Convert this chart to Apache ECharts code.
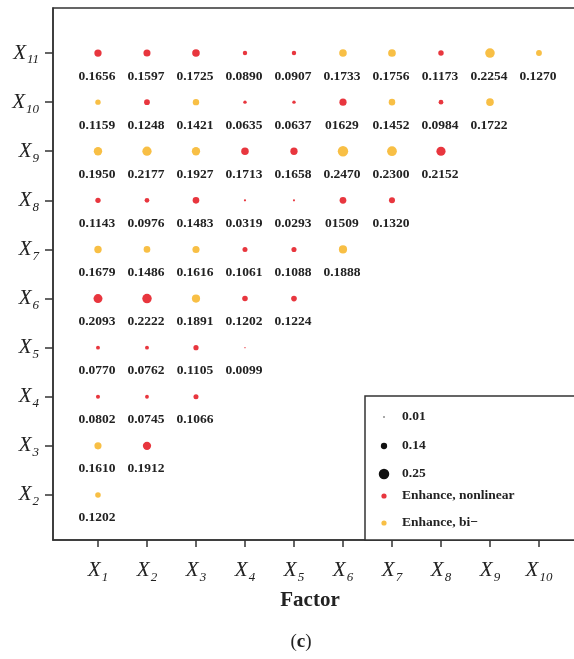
<!DOCTYPE html>
<html>
<head>
<meta charset="utf-8">
<script src="https://cdn.jsdelivr.net/npm/echarts@6/dist/echarts.min.js"></script>
<style>
  html, body { margin: 0; padding: 0; background: #fff; }
  #chart { width: 574px; height: 659px; }
</style>
</head>
<body>
<div id="chart"></div>
<script>
// Factor indices on both axes (X1 .. X11)
const xFactors = [1, 2, 3, 4, 5, 6, 7, 8, 9, 10];
const yFactors = [2, 3, 4, 5, 6, 7, 8, 9, 10, 11];

// Interaction q-values, one row per y factor, columns X1, X2, ...
const rowX2  = [0.1202];
const rowX3  = [0.1610, 0.1912];
const rowX4  = [0.0802, 0.0745, 0.1066];
const rowX5  = [0.0770, 0.0762, 0.1105, 0.0099];
const rowX6  = [0.2093, 0.2222, 0.1891, 0.1202, 0.1224];
const rowX7  = [0.1679, 0.1486, 0.1616, 0.1061, 0.1088, 0.1888];
const rowX8  = [0.1143, 0.0976, 0.1483, 0.0319, 0.0293, 0.1509, 0.1320];
const rowX9  = [0.1950, 0.2177, 0.1927, 0.1713, 0.1658, 0.2470, 0.2300, 0.2152];
const rowX10 = [0.1159, 0.1248, 0.1421, 0.0635, 0.0637, 0.1629, 0.1452, 0.0984, 0.1722];
const rowX11 = [0.1656, 0.1597, 0.1725, 0.0890, 0.0907, 0.1733, 0.1756, 0.1173, 0.2254, 0.1270];

// Interaction type per cell: N = enhance, nonlinear; B = enhance, bi-
const typeX2  = ['B'];
const typeX3  = ['B', 'N'];
const typeX4  = ['N', 'N', 'N'];
const typeX5  = ['N', 'N', 'N', 'N'];
const typeX6  = ['N', 'N', 'B', 'N', 'N'];
const typeX7  = ['B', 'B', 'B', 'N', 'N', 'B'];
const typeX8  = ['N', 'N', 'N', 'N', 'N', 'N', 'N'];
const typeX9  = ['B', 'B', 'B', 'N', 'N', 'B', 'B', 'N'];
const typeX10 = ['B', 'N', 'B', 'N', 'N', 'N', 'B', 'N', 'B'];
const typeX11 = ['N', 'N', 'N', 'N', 'N', 'B', 'B', 'N', 'B', 'B'];

// Printed labels that differ from the plain 4-decimal form: [x, y, text]
const labelOverrides = [[6, 10, '01629'], [6, 8, '01509']];

// Size legend values
const sizeLegend = [0.01, 0.14, 0.25];
const typeLegend = ['Enhance, nonlinear', 'Enhance, bi\u2212'];

const rows = [rowX2, rowX3, rowX4, rowX5, rowX6, rowX7, rowX8, rowX9, rowX10, rowX11];
const types = [typeX2, typeX3, typeX4, typeX5, typeX6, typeX7, typeX8, typeX9, typeX10, typeX11];

const RED = '#e8363e';
const YELLOW = '#f8bf45';
const SERIF = '"Liberation Serif", "Times New Roman", serif';

function dotSize(v) { return 1 + 38 * v; }

function labelFor(x, y, v) {
  const o = labelOverrides.find(r => r[0] === x && r[1] === y);
  return o ? o[2] : v.toFixed(4);
}

const nonlinear = [];
const bivariate = [];
rows.forEach((row, ri) => {
  const y = yFactors[ri];
  row.forEach((v, ci) => {
    const x = xFactors[ci];
    const item = [x, y, v, labelFor(x, y, v)];
    (types[ri][ci] === 'N' ? nonlinear : bivariate).push(item);
  });
});

const tickRich = {
  x: { fontFamily: SERIF, fontStyle: 'italic', fontSize: 21, color: '#222' },
  s: { fontFamily: SERIF, fontStyle: 'italic', fontSize: 13, color: '#222', verticalAlign: 'bottom', padding: [0, 0, -3, 1] }
};

function seriesFor(name, data, color) {
  return {
    name: name,
    type: 'scatter',
    data: data,
    symbol: 'circle',
    symbolSize: d => dotSize(d[2]),
    itemStyle: { color: color, opacity: 1 },
    label: {
      show: true,
      position: 'inside',
      offset: [-1, 23],
      formatter: p => p.data[3],
      fontFamily: SERIF,
      fontWeight: 'bold',
      fontSize: 13.5,
      color: '#222'
    },
    emphasis: { disabled: true },
    silent: true
  };
}

// Legend box drawn at the lower right of the plot
const legendLeft = 365, legendTop = 396;
const legendRowsY = [417, 446, 474, 496, 523];
const legendGraphics = [
  {
    type: 'rect',
    shape: { x: legendLeft, y: legendTop, width: 260, height: 540 - legendTop },
    style: { fill: '#fff', stroke: '#333', lineWidth: 1.5 },
    z: 100
  }
];
sizeLegend.forEach((v, i) => {
  legendGraphics.push({
    type: 'circle',
    shape: { cx: 384, cy: legendRowsY[i], r: dotSize(v) / 2 },
    style: { fill: '#111' },
    z: 101
  });
  legendGraphics.push({
    type: 'text',
    x: 402, y: legendRowsY[i],
    style: { text: v.toFixed(2), fontFamily: SERIF, fontWeight: 'bold', fontSize: 13.5, fill: '#222', verticalAlign: 'middle' },
    z: 101
  });
});
typeLegend.forEach((t, i) => {
  const yy = legendRowsY[3 + i];
  legendGraphics.push({
    type: 'circle',
    shape: { cx: 384, cy: yy, r: 2.6 },
    style: { fill: i === 0 ? RED : YELLOW },
    z: 101
  });
  legendGraphics.push({
    type: 'text',
    x: 402, y: yy,
    style: { text: t, fontFamily: SERIF, fontWeight: 'bold', fontSize: 13.5, fill: '#222', verticalAlign: 'middle' },
    z: 101
  });
});

// Axis title and panel tag below the plot
legendGraphics.push({
  type: 'text',
  x: 310, y: 601,
  style: { text: 'Factor', fontFamily: SERIF, fontWeight: 'bold', fontSize: 21, fill: '#222', align: 'center', verticalAlign: 'middle' }
});
legendGraphics.push({
  type: 'text',
  x: 301, y: 642,
  style: {
    text: '{p|(}{c|c}{p|)}',
    align: 'center', verticalAlign: 'middle',
    rich: {
      p: { fontFamily: SERIF, fontSize: 19, fill: '#222' },
      c: { fontFamily: SERIF, fontSize: 19, fontWeight: 'bold', fill: '#222' }
    }
  }
});

const chart = echarts.init(document.getElementById('chart'), null, { renderer: 'canvas' });
chart.setOption({
  animation: false,
  backgroundColor: '#fff',
  grid: {
    left: 53, top: 8, width: 560, height: 532,
    outerBoundsMode: 'none',
    containLabel: false,
    show: true, borderColor: '#333', borderWidth: 1.5, backgroundColor: 'transparent'
  },
  xAxis: {
    type: 'value',
    min: 0.082, max: 0.082 + 560 / 49,
    splitLine: { show: false },
    axisLine: { show: true, lineStyle: { color: '#333', width: 1.5 } },
    axisTick: { show: true, customValues: xFactors, length: 7, lineStyle: { color: '#333', width: 1.5 } },
    axisLabel: {
      customValues: xFactors,
      margin: 20,
      formatter: v => '{x|X}{s|' + v + '}',
      rich: tickRich
    }
  },
  yAxis: {
    type: 'value',
    min: 1.083, max: 11.917,
    splitLine: { show: false },
    axisLine: { show: true, lineStyle: { color: '#333', width: 1.5 } },
    axisTick: { show: true, customValues: yFactors, length: 8, lineStyle: { color: '#333', width: 1.5 } },
    axisLabel: {
      customValues: yFactors,
      margin: 14,
      formatter: v => '{x|X}{s|' + v + '}',
      rich: tickRich
    }
  },
  graphic: legendGraphics,
  series: [
    seriesFor('Enhance, nonlinear', nonlinear, RED),
    seriesFor('Enhance, bi-', bivariate, YELLOW)
  ]
});
</script>
</body>
</html>
